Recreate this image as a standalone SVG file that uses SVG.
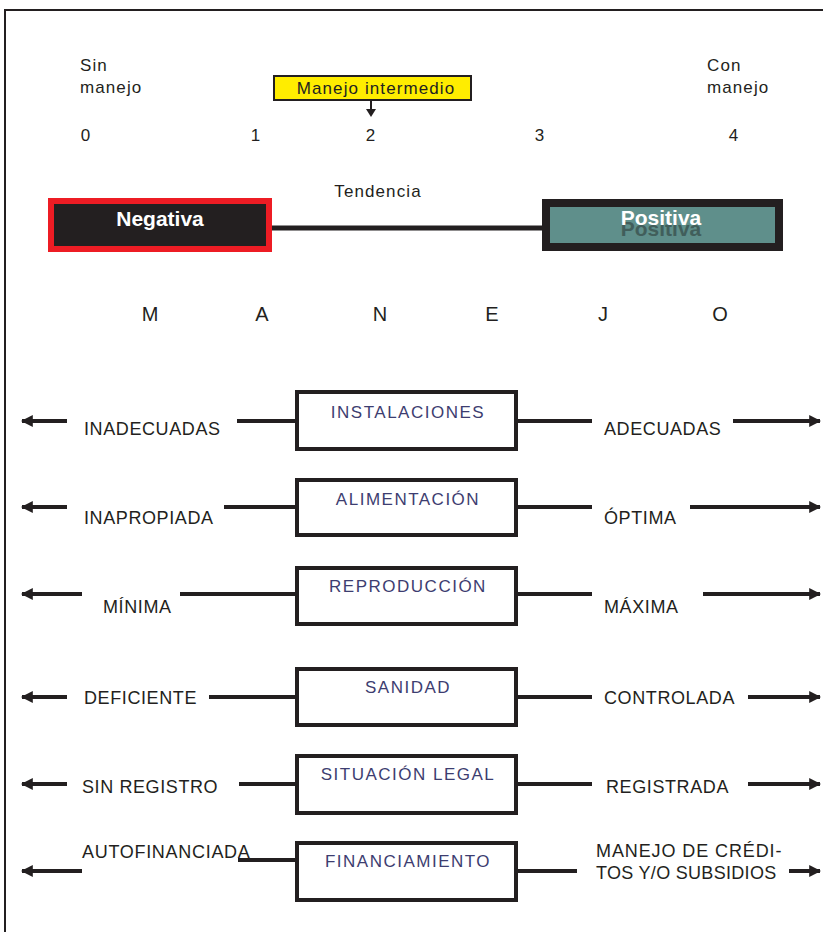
<svg xmlns="http://www.w3.org/2000/svg" width="823" height="932" viewBox="0 0 823 932">
<defs>
<style>
.t{font-family:"Liberation Sans",Arial,sans-serif;fill:#231f20;}
.s{font-size:17px;letter-spacing:1.1px;}
.lab{font-size:18px;letter-spacing:0.6px;}
.let{font-size:20px;text-anchor:middle;}
.box{fill:#fff;stroke:#231f20;stroke-width:4;}
.bt{font-family:"Liberation Sans",Arial,sans-serif;font-size:17px;fill:#3d3d70;letter-spacing:1.5px;text-anchor:middle;}
.ln{stroke:#231f20;stroke-width:4;fill:none;}
.big{font-family:"Liberation Sans",Arial,sans-serif;font-weight:bold;font-size:21px;text-anchor:middle;}
</style>
<marker id="ah" viewBox="0 0 10 10" refX="9" refY="5" markerWidth="3" markerHeight="3" orient="auto-start-reverse" markerUnits="strokeWidth">
<path d="M0,0 L10,5 L0,10 z" fill="#231f20"/>
</marker>
</defs>
<rect width="823" height="932" fill="#fff"/>
<path d="M5,932 V10 H823" fill="none" stroke="#231f20" stroke-width="2"/>

<g id="scale">
<text class="t s" x="80" y="71">Sin</text>
<text class="t s" x="80" y="93">manejo</text>
<text class="t s" x="707" y="71">Con</text>
<text class="t s" x="707" y="93">manejo</text>
<text class="t s" x="86" y="141" text-anchor="middle">0</text>
<text class="t s" x="256" y="141" text-anchor="middle">1</text>
<text class="t s" x="371" y="141" text-anchor="middle">2</text>
<text class="t s" x="540" y="141" text-anchor="middle">3</text>
<text class="t s" x="734" y="141" text-anchor="middle">4</text>
</g>
<g id="intermedio">
<rect x="274" y="76" width="197" height="24" fill="#ffed00" stroke="#231f20" stroke-width="2"/>
<text class="t s" x="376" y="94" text-anchor="middle">Manejo intermedio</text>
</g>

<g id="tendencia">
<text class="t s" x="378" y="197" text-anchor="middle">Tendencia</text>
</g>
<g id="negativa">
<rect x="51" y="201" width="218" height="48" fill="#231f20" stroke="#ed1c24" stroke-width="6"/>
<text class="big" x="160" y="226" fill="#fff">Negativa</text>
</g>
<g id="positiva">
<rect x="546" y="203" width="233" height="44" fill="#5f8f8b" stroke="#231f20" stroke-width="8"/>
<text class="big" x="661" y="236" fill="#2e3e3c" opacity="0.6">Positiva</text>
<text class="big" x="661" y="225" fill="#fff">Positiva</text>
</g>

<g id="manejo-letters" class="t">
<text class="let" x="150" y="321">M</text>
<text class="let" x="262" y="321">A</text>
<text class="let" x="380" y="321">N</text>
<text class="let" x="492" y="321">E</text>
<text class="let" x="603" y="321">J</text>
<text class="let" x="720" y="321">O</text>
</g>

<g id="connectors">
<line x1="272" y1="228" x2="543" y2="228" stroke="#231f20" stroke-width="5"/>
<path d="M371,100 V110" stroke="#231f20" stroke-width="2"/>
<path d="M366,109 L376,109 L371,117 z" fill="#231f20"/>

<line class="ln" x1="237" y1="421" x2="295" y2="421"/>
<line class="ln" x1="518" y1="421" x2="592" y2="421"/>
<line class="ln" x1="67" y1="421" x2="22" y2="421" marker-end="url(#ah)"/>
<line class="ln" x1="733" y1="421" x2="820" y2="421" marker-end="url(#ah)"/>

<line class="ln" x1="224" y1="507" x2="295" y2="507"/>
<line class="ln" x1="518" y1="507" x2="592" y2="507"/>
<line class="ln" x1="67" y1="507" x2="22" y2="507" marker-end="url(#ah)"/>
<line class="ln" x1="690" y1="507" x2="820" y2="507" marker-end="url(#ah)"/>

<line class="ln" x1="180" y1="594" x2="295" y2="594"/>
<line class="ln" x1="518" y1="594" x2="592" y2="594"/>
<line class="ln" x1="82" y1="594" x2="22" y2="594" marker-end="url(#ah)"/>
<line class="ln" x1="703" y1="594" x2="820" y2="594" marker-end="url(#ah)"/>

<line class="ln" x1="209" y1="697" x2="295" y2="697"/>
<line class="ln" x1="518" y1="697" x2="592" y2="697"/>
<line class="ln" x1="67" y1="697" x2="22" y2="697" marker-end="url(#ah)"/>
<line class="ln" x1="748" y1="697" x2="820" y2="697" marker-end="url(#ah)"/>

<line class="ln" x1="239" y1="784" x2="295" y2="784"/>
<line class="ln" x1="518" y1="784" x2="592" y2="784"/>
<line class="ln" x1="67" y1="784" x2="22" y2="784" marker-end="url(#ah)"/>
<line class="ln" x1="748" y1="784" x2="820" y2="784" marker-end="url(#ah)"/>

<line class="ln" x1="238" y1="860" x2="295" y2="860"/>
<line class="ln" x1="518" y1="871" x2="577" y2="871"/>
<line class="ln" x1="82" y1="871" x2="22" y2="871" marker-end="url(#ah)"/>
<line class="ln" x1="789" y1="871" x2="820" y2="871" marker-end="url(#ah)"/>
</g>

<g id="instalaciones">
<rect class="box" x="297" y="392" width="219" height="57"/>
<text class="bt" x="408" y="418">INSTALACIONES</text>
</g>
<g id="alimentacion">
<rect class="box" x="297" y="480" width="219" height="55"/>
<text class="bt" x="408" y="505">ALIMENTACIÓN</text>
</g>
<g id="reproduccion">
<rect class="box" x="297" y="568" width="219" height="56"/>
<text class="bt" x="408" y="592">REPRODUCCIÓN</text>
</g>
<g id="sanidad">
<rect class="box" x="297" y="669" width="219" height="56"/>
<text class="bt" x="408" y="693">SANIDAD</text>
</g>
<g id="situacion">
<rect class="box" x="297" y="756" width="219" height="57"/>
<text class="bt" x="408" y="780">SITUACIÓN LEGAL</text>
</g>
<g id="financiamiento">
<rect class="box" x="297" y="843" width="219" height="57"/>
<text class="bt" x="408" y="867">FINANCIAMIENTO</text>
</g>

<g id="labels" class="t">
<text class="lab" x="84" y="435">INADECUADAS</text>
<text class="lab" x="604" y="435">ADECUADAS</text>
<text class="lab" x="84" y="524">INAPROPIADA</text>
<text class="lab" x="604" y="524">ÓPTIMA</text>
<text class="lab" x="103" y="613">MÍNIMA</text>
<text class="lab" x="604" y="613">MÁXIMA</text>
<text class="lab" x="84" y="704">DEFICIENTE</text>
<text class="lab" x="604" y="704">CONTROLADA</text>
<text class="lab" x="82" y="793">SIN REGISTRO</text>
<text class="lab" x="606" y="793">REGISTRADA</text>
<text class="lab" x="82" y="858" style="letter-spacing:0.7px">AUTOFINANCIADA</text>
<text class="lab" x="596" y="857" style="letter-spacing:0.9px">MANEJO DE CRÉDI-</text>
<text class="lab" x="596" y="879" style="letter-spacing:0.3px">TOS Y/O SUBSIDIOS</text>
</g>
</svg>
